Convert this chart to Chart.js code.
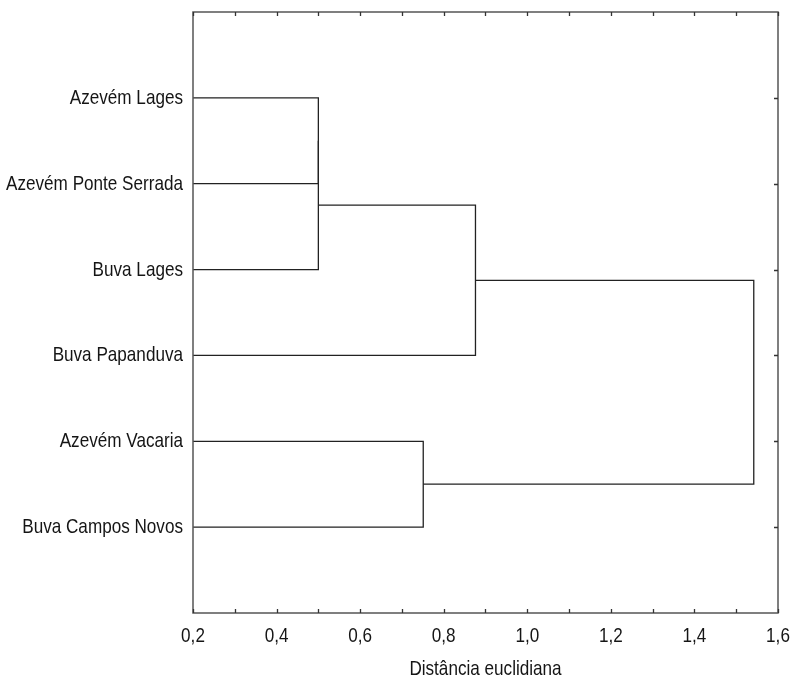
<!DOCTYPE html>
<html><head><meta charset="utf-8">
<script src="https://cdn.jsdelivr.net/npm/chart.js@4/dist/chart.umd.min.js"></script>
<style>html,body{margin:0;padding:0;background:#fff}#wrap{width:792px;height:676px}</style>
</head><body><div id="wrap"><canvas id="c" width="792" height="676"></canvas></div>
<script>
// ---- data ----
const leaves = ['Azevém Lages', 'Azevém Ponte Serrada', 'Buva Lages', 'Buva Papanduva', 'Azevém Vacaria', 'Buva Campos Novos'];
// merge k creates node (leaves.length + k) from mergeLeft[k] and mergeRight[k]
const mergeLeft = [0, 6, 7, 4, 8];
const mergeRight = [1, 2, 3, 5, 9];
const mergeHeight = [0.50, 0.50, 0.876, 0.751, 1.542];
const xTickValues = [0.2, 0.4, 0.6, 0.8, 1.0, 1.2, 1.4, 1.6];
const xMinorTickValues = [0.3, 0.5, 0.7, 0.9, 1.1, 1.3, 1.5];
const xTitle = 'Distância euclidiana';

const FONT = "21px 'Liberation Sans', Arial, sans-serif";
const SQUEEZE = 0.815; // the reference uses a narrow sans face

// ---- build dendrogram segments ----
const nodeY = leaves.map((_, i) => i + 1);
const nodeH = leaves.map(() => 0);
const datasets = [];
mergeLeft.forEach((a, k) => {
  const b = mergeRight[k], h = mergeHeight[k];
  datasets.push({
    data: [{x: nodeH[a], y: nodeY[a]}, {x: h, y: nodeY[a]}, {x: h, y: nodeY[b]}, {x: nodeH[b], y: nodeY[b]}],
    showLine: true, borderColor: '#222', borderWidth: 1.3, pointRadius: 0, tension: 0, fill: false
  });
  nodeY.push((nodeY[a] + nodeY[b]) / 2);
  nodeH.push(h);
});

function narrowText(ctx, text, x, y, align) {
  ctx.save();
  ctx.translate(x, y);
  ctx.scale(SQUEEZE, 1);
  ctx.textAlign = align;
  ctx.textBaseline = 'alphabetic';
  ctx.fillText(text, 0, 0);
  ctx.restore();
}

const frameTicks = {
  id: 'frameTicks',
  afterDatasetsDraw(chart) {
    const {ctx, chartArea: {left, top, right, bottom}, scales: {x, y}} = chart;
    ctx.save();
    ctx.strokeStyle = '#555'; ctx.lineWidth = 1.5;
    ctx.strokeRect(left, top, right - left, bottom - top);
    ctx.strokeStyle = '#333'; ctx.lineWidth = 1.3;
    ctx.beginPath();
    xTickValues.concat(xMinorTickValues).forEach(v => {
      const px = Math.round(x.getPixelForValue(v)) + 0.5;
      ctx.moveTo(px, bottom); ctx.lineTo(px, bottom - 4);
      ctx.moveTo(px, top); ctx.lineTo(px, top + 4);
    });
    leaves.forEach((_, i) => {
      const py = Math.round(y.getPixelForValue(i + 1)) + 0.5;
      ctx.moveTo(right, py); ctx.lineTo(right - 4, py);
    });
    ctx.stroke();

    // text: tick labels and axis title, placed through the scales
    ctx.fillStyle = '#151515';
    ctx.font = FONT;
    xTickValues.forEach(v => {
      narrowText(ctx, v.toFixed(1).replace('.', ','), x.getPixelForValue(v), bottom + 29, 'center');
    });
    leaves.forEach((name, i) => {
      narrowText(ctx, name, left - 10, y.getPixelForValue(i + 1) + 6, 'right');
    });
    narrowText(ctx, xTitle, (left + right) / 2, bottom + 62, 'center');
    ctx.restore();
  }
};

new Chart(document.getElementById('c'), {
  type: 'scatter',
  data: {datasets},
  options: {
    responsive: false, animation: false, devicePixelRatio: 1,
    layout: {padding: {top: 12, right: 14, left: 0, bottom: 0}},
    plugins: {legend: {display: false}, tooltip: {enabled: false}},
    scales: {
      x: {
        type: 'linear', min: 0.2, max: 1.6,
        afterBuildTicks: s => { s.ticks = xTickValues.map(v => ({value: v})); },
        afterFit: s => { s.height = 63; },
        grid: {display: false, drawTicks: false},
        border: {display: false},
        ticks: {display: false}
      },
      y: {
        type: 'linear', min: 0, max: 7, reverse: true,
        afterBuildTicks: s => { s.ticks = leaves.map((_, i) => ({value: i + 1})); },
        afterFit: s => { s.width = 193; },
        grid: {display: false, drawTicks: false},
        border: {display: false},
        ticks: {display: false}
      }
    }
  },
  plugins: [frameTicks]
});
</script>
</body></html>
